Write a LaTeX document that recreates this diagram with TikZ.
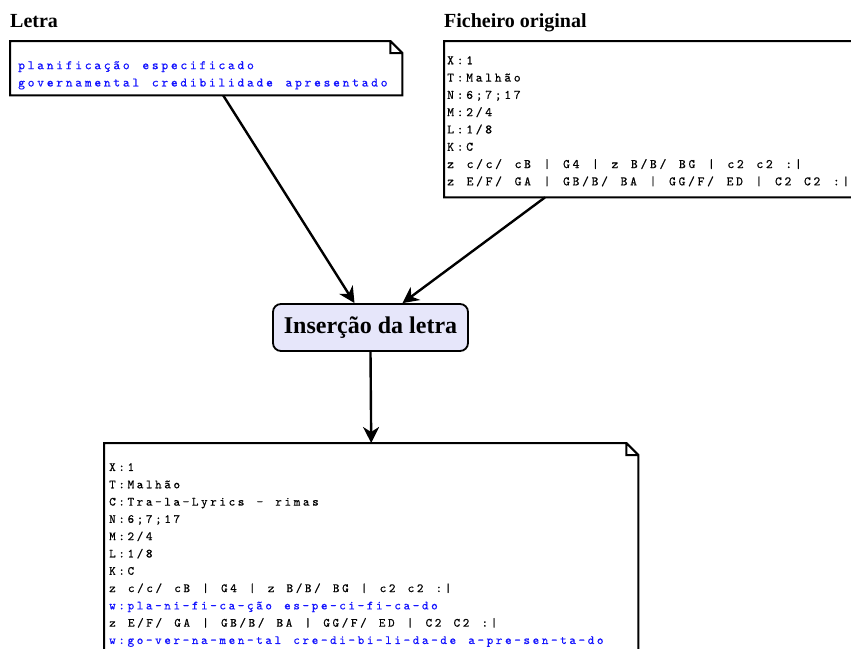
\documentclass[tikz,border=0pt]{standalone}
\usepackage{fontspec}
\setmainfont{Liberation Serif}
\newfontfamily\abcfont[LetterSpace=21,WordSpace=1.33,FakeBold=0.6]{lmmono10-regular.otf}
\usetikzlibrary{arrows.meta,positioning}

\definecolor{processfill}{RGB}{230,230,250}
\definecolor{lyricblue}{RGB}{20,20,255}

\begin{document}
\begin{tikzpicture}[
    x=1pt, y=-1pt,
    title/.style={font=\fontsize{20}{24}\selectfont\bfseries, anchor=base west, inner sep=0pt},
    note/.style={anchor=north west, inner sep=0pt},
    abc/.style={font={\abcfont\fontsize{12.95}{17.3}\selectfont},
                align=left, inner sep=0pt},
    lyrics/.style={abc, text=lyricblue},
    process/.style={draw, line width=1.8pt, rounded corners=8pt, fill=processfill,
                    font=\fontsize{24}{28}\selectfont\bfseries,
                    minimum width=195pt, minimum height=47pt},
    frame/.style={line width=2pt, line join=miter},
    arrow/.style={line width=2.4pt, -{Stealth[length=16pt,width=16pt,inset=5pt]}}
]
\useasboundingbox (0,0) rectangle (851,648);

% 1) Lyrics note
\node[note, minimum width=392pt, minimum height=54pt] (letra) at (10,41) {};
\node[above=14pt of letra.north west, title] (letratitle) {Letra};
\node[lyrics, below right=20pt and 8pt of letra.north west] (letratxt)
   {planificação especificado\\governamental credibilidade apresentado};

% 2) Original ABC file
\node[note, minimum width=430pt, minimum height=156pt] (ficheiro) at (444,41) {};
\node[above=14pt of ficheiro.north west, title] (ficheirotitle) {Ficheiro original};
\node[abc, below right=15pt and 3pt of ficheiro.north west] (ficheirotxt)
   {X:1\\T:Malhão\\N:6;7;17\\M:2/4\\L:1/8\\K:C\\
    z c/c/ cB | G4 | z B/B/ BG | c2 c2 :|\\
    z E/F/ GA | GB/B/ BA | GG/F/ ED | C2 C2 :|};

% 3) Insertion step
\node[process] (insert) at (370.5,327.5) {Inserção da letra};

% 4) Resulting ABC file
\node[note, minimum width=534pt, minimum height=230pt] (saida) at (104,443) {};
\node[abc, font={\abcfont\fontsize{12.5}{17.3}\selectfont},
      below right=20pt and 5pt of saida.north west] (saidatxt)
   {X:1\\T:Malhão\\C:Tra-la-Lyrics - rimas\\N:6;7;17\\M:2/4\\L:1/8\\K:C\\
    z c/c/ cB | G4 | z B/B/ BG | c2 c2 :|\\
    \textcolor{lyricblue}{w:pla-ni-fi-ca-ção es-pe-ci-fi-ca-do}\\
    z E/F/ GA | GB/B/ BA | GG/F/ ED | C2 C2 :|\\
    \textcolor{lyricblue}{w:go-ver-na-men-tal cre-di-bi-li-da-de a-pre-sen-ta-do}};

% folded-corner frames
\foreach \n in {letra,ficheiro,saida}
  \draw[frame] (\n.south west) -- (\n.north west) -- ([xshift=-12pt]\n.north east)
     -- ([yshift=-12pt]\n.north east) -- (\n.south east) -- cycle
     ([xshift=-12pt]\n.north east) |- ([yshift=-12pt]\n.north east);

% connectors
\draw[arrow] ([xshift=17pt]letra.south) -- ([xshift=-16pt]insert.north);
\draw[arrow] ([xshift=101pt]ficheiro.south west) -- ([xshift=32pt]insert.north);
\draw[arrow] (insert.south) -- (saida.north);
\end{tikzpicture}
\end{document}
